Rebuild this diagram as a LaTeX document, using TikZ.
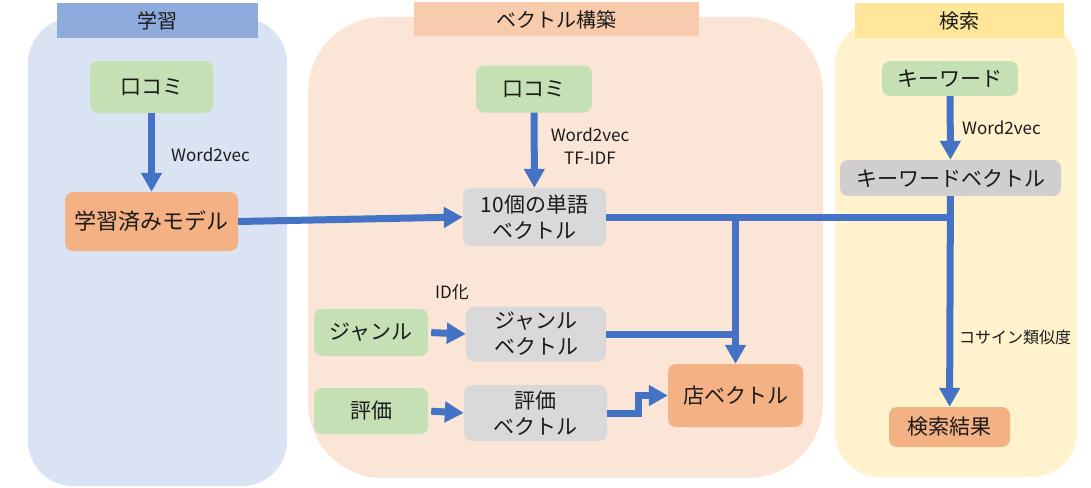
\documentclass[tikz,border=0pt]{standalone}
\usepackage{fontspec}
\setmainfont{Noto Sans CJK JP}
\usetikzlibrary{arrows.meta}
\definecolor{bgA}{HTML}{DAE3F3}
\definecolor{hdA}{HTML}{8FAADC}
\definecolor{bgB}{HTML}{FBE5D6}
\definecolor{hdB}{HTML}{F8CBAD}
\definecolor{bgC}{HTML}{FFF2CC}
\definecolor{hdC}{HTML}{FFE699}
\definecolor{greenbox}{HTML}{C5E0B4}
\definecolor{orangebox}{HTML}{F4B183}
\definecolor{graybox}{HTML}{D9D9D9}
\definecolor{graybox2}{HTML}{D0CECE}
\definecolor{arrowc}{HTML}{4472C4}
\definecolor{txt}{HTML}{1A1A1A}
\tikzset{
  header/.style={fill=#1, inner sep=0pt, text=txt, font=\fontsize{20}{22}\selectfont},
  boxbase/.style={rounded corners=8pt, inner sep=0pt, align=center, text=txt, font=\fontsize{21}{26}\selectfont},
  gbox/.style={boxbase, fill=greenbox},
  obox/.style={boxbase, fill=orangebox},
  ybox/.style={boxbase, fill=graybox},
  lbl/.style={text=txt, inner sep=0pt, align=center, font=\fontsize{17}{23}\selectfont},
  conn/.style={draw=arrowc, line width=7pt},
  arr/.style={conn, -{Triangle[width=20pt,length=19pt]}},
}
\begin{document}
\begin{tikzpicture}[x=1pt,y=-1pt]
\useasboundingbox (0,0) rectangle (1091,487);
% panels
\fill[bgA, rounded corners=45pt] (28,18) rectangle (287,486);
\fill[bgB, rounded corners=75pt] (308,17) rectangle (823,478);
\fill[bgC, rounded corners=45pt] (835,20) rectangle (1077,477);
% headers
\node[header=hdA, minimum width=201pt, minimum height=35pt] (hA) at (157.5,20.5) {学習};
\node[header=hdB, minimum width=285pt, minimum height=34pt] (hB) at (556,19.5) {ベクトル構築};
\node[header=hdC, minimum width=209pt, minimum height=35pt] (hC) at (959.5,20.5) {検索};
% panel 1
\node[gbox, minimum width=123pt, minimum height=52pt] (k1) at (151.5,87) {口コミ};
\node[obox, minimum width=173pt, minimum height=59pt, font=\fontsize{22}{26}\selectfont] (model) at (151.5,221.5) {学習済みモデル};
% panel 2
\node[gbox, minimum width=116pt, minimum height=47pt] (k2) at (534,89) {口コミ};
\node[ybox, minimum width=143pt, minimum height=58pt] (wv) at (534.5,217) {10個の単語\\ベクトル};
\node[gbox, minimum width=114pt, minimum height=47pt] (genre) at (371,332.5) {ジャンル};
\node[ybox, minimum width=140pt, minimum height=55pt] (gv) at (536,334) {ジャンル\\ベクトル};
\node[gbox, minimum width=114pt, minimum height=46pt] (rate) at (371,411) {評価};
\node[ybox, minimum width=143pt, minimum height=56pt] (rv) at (535.5,413) {評価\\ベクトル};
\node[obox, minimum width=135pt, minimum height=63pt] (shop) at (735.5,395.5) {店ベクトル};
% panel 3
\node[gbox, minimum width=136pt, minimum height=35pt] (kw) at (950,78.5) {キーワード};
\node[boxbase, fill=graybox2, minimum width=221pt, minimum height=36pt] (kwv) at (950.5,178) {キーワードベクトル};
\node[obox, minimum width=121pt, minimum height=40pt] (res) at (949.5,427) {検索結果};
% labels
\node[lbl, anchor=west] (l1) at (171,155) {Word2vec};
\node[lbl] (l2) at (590,146) {Word2vec\\TF-IDF};
\node[lbl] (l3) at (452,292) {ID化};
\node[lbl, anchor=west] (l4) at (962,128) {Word2vec};
\node[lbl, anchor=west, font=\fontsize{16}{20}\selectfont] (l5) at (959,337) {コサイン類似度};
% connectors
\draw[arr] (k1) -- (model);
\draw[arr] (model.east) -- (wv.west);
\draw[arr] (k2) -- (wv);
\draw[arr] (kw) -- (kwv);
\draw[arr] (kwv) -- (res);
\draw[conn] (wv.east) -- (wv.east -| kwv.south);
\draw[arr] (wv.east -| shop.north) -- (shop.north);
\draw[conn] (gv.east) -- (gv.east -| shop.north);
\draw[arr, shorten <=3pt] (genre.east) -- (gv.west);
\draw[arr, shorten <=3pt] (rate.east) -- (rv.west);
\coordinate (bend) at ([xshift=31pt]rv.east);
\draw[arr] (rv.east) -- (bend) |- (shop.west);
\end{tikzpicture}
\end{document}
